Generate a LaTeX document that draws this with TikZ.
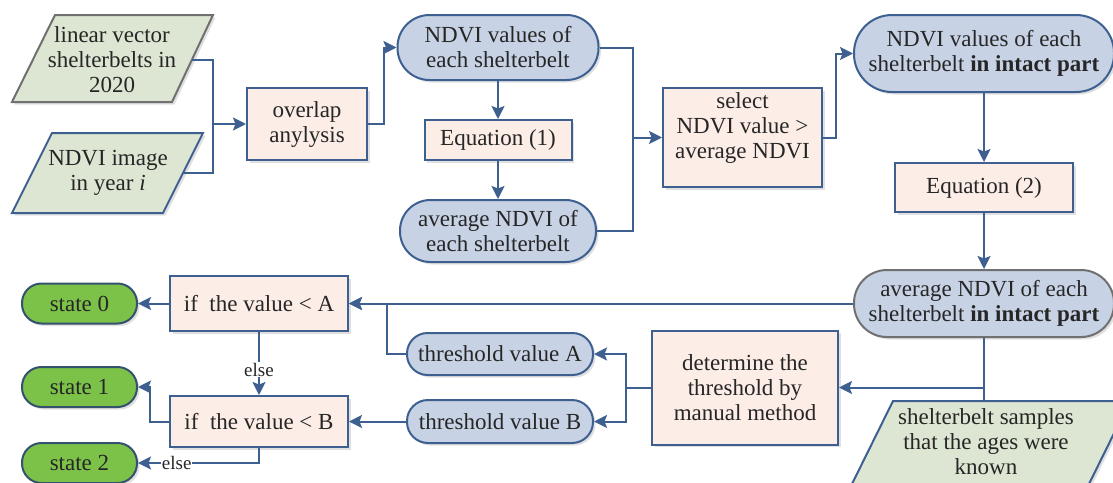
\documentclass[tikz,border=0pt]{standalone}
\usepackage{fontspec}
\setmainfont{LiberationSerif}[Extension=.ttf, UprightFont=*-Regular, BoldFont=*-Bold, ItalicFont=*-Italic, BoldItalicFont=*-BoldItalic]
\usetikzlibrary{arrows.meta,shadows}
\definecolor{lnblue}{RGB}{61,96,145}
\definecolor{pinkfill}{RGB}{252,237,231}
\definecolor{bluefill}{RGB}{199,210,229}
\definecolor{greenfill}{RGB}{221,230,210}
\definecolor{statefill}{RGB}{124,194,72}
\definecolor{grayline}{RGB}{112,112,112}
\definecolor{stateline}{RGB}{52,82,110}
\begin{document}
\begin{tikzpicture}[x=1pt,y=-1pt,
  every node/.style={font=\rmfamily\fontsize{23}{25}\selectfont, align=center, inner sep=0pt, text=black!85},
  shad/.style={drop shadow={shadow xshift=2.5pt,shadow yshift=-2.5pt,fill=black,opacity=0.12}},
  pinkbox/.style={rectangle, draw=lnblue, fill=pinkfill, line width=2pt, shad},
  pill/.style={rectangle, draw=lnblue, fill=bluefill, line width=2pt, rounded corners=#1, shad},
  statepill/.style={rectangle, draw=stateline, fill=statefill, line width=2pt, rounded corners=19.5pt, minimum width=115pt, minimum height=40pt, shad},
  para/.style={fill=greenfill, line width=2pt, shad},
  conn/.style={draw=lnblue, line width=2pt},
  arr/.style={conn, -{Stealth[length=13pt,width=13pt,inset=2.5pt]}},
  elselbl/.style={font=\rmfamily\fontsize{19}{21}\selectfont, fill=white, inner sep=1pt}
]
\fill[white] (0,0) rectangle (1113,482);
\path[use as bounding box] (0,0) rectangle (1113,482);
\clip (0,0) rectangle (1113,482);

% input parallelograms
\path[para, draw=grayline] (55,15) -- (213,15) -- (172,102) -- (12,102) -- cycle;
\node (p1) at (112,60) {linear vector\\shelterbelts in\\2020};
\coordinate (p1e) at (192,60);

\path[para, draw=lnblue] (52,133) -- (203,133) -- (163,213) -- (12,213) -- cycle;
\node (p2) at (108,173) {NDVI image\\in year \textit{i}};
\coordinate (p2e) at (183,173);

\path[para, draw=lnblue] (893,401) -- (1130,401) -- (1086,490) -- (849,490) -- cycle;
\node (smp) at (986,442) {shelterbelt samples\\that the ages were\\known};
\coordinate (sTop) at (984,401);

% process nodes
\node[pinkbox, minimum width=120pt, minimum height=72pt] (ov) at (307,124) {overlap\\anylysis};
\node[pill=32pt, minimum width=201pt, minimum height=65pt] (nv) at (498,47.5) {NDVI values of\\each shelterbelt};
\node[pinkbox, minimum width=147pt, minimum height=40pt] (eq1) at (498,140) {Equation (1)};
\node[pill=30.5pt, minimum width=196pt, minimum height=62pt] (avg) at (498,231) {average NDVI of\\each shelterbelt};
\node[pinkbox, minimum width=159pt, minimum height=99pt] (sel) at (742.5,137.5) {select\\NDVI value >\\average NDVI\\[-2pt]\mbox{}};
\node[pill=38pt, minimum width=260pt, minimum height=77pt] (nvi) at (984,53.5) {NDVI values of each\\shelterbelt \textbf{in intact part}};
\node[pinkbox, minimum width=178pt, minimum height=49pt] (eq2) at (984,187.5) {Equation (2)};
\node[pill=33pt, minimum width=260pt, minimum height=67pt, draw=grayline] (avgi) at (984,303.5) {average NDVI of each\\shelterbelt \textbf{in intact part}};
\node[pinkbox, minimum width=178pt, minimum height=55pt] (ifA) at (259,303.5) {if\ \ the value < A};
\node[pinkbox, minimum width=178pt, minimum height=51pt] (ifB) at (259,421.5) {if\ \ the value < B};
\node[pill=20.5pt, minimum width=186pt, minimum height=42pt] (thA) at (500,354) {threshold value A};
\node[pill=21pt, minimum width=186pt, minimum height=43pt] (thB) at (500,421.5) {threshold value B};
\node[pinkbox, minimum width=186pt, minimum height=114pt] (det) at (745,387.5) {determine the\\threshold by\\manual method};
\node[statepill] (s0) at (79.5,303.5) {state 0};
\node[statepill] (s1) at (79.5,387) {state 1};
\node[statepill] (s2) at (79.5,463) {state 2};

% connectors
\coordinate (jA) at (213,124);
\draw[conn] (p1e) -| (jA) |- (p2e);
\draw[arr] (jA) -- (ov.west);
\draw[arr] (ov.east) -- ++(16,0) |- (nv.west);
\draw[arr] (nv.south) -- (eq1.north);
\draw[arr] (eq1.south) -- (avg.north);
\coordinate (jB) at (633,137.5);
\draw[conn] (nv.east) -| (jB) |- (avg.east);
\draw[arr] (jB) -- (sel.west);
\draw[arr] (sel.east) -- ++(13,0) |- (nvi.west);
\draw[arr] (nvi.south) -- (eq2.north);
\draw[arr] (eq2.south) -- (avgi.north);
\draw[arr] (avgi.west) -- (ifA.east);
\draw[arr] (thA.west) -- ++(-19,0) |- (ifA.east);
\draw[arr] (thB.west) -- (ifB.east);
\coordinate (jC) at (626,387.5);
\draw[conn] (det.west) -- (jC);
\draw[arr] (jC) |- (thA.east);
\draw[arr] (jC) |- (thB.east);
\draw[conn] (avgi.south) -- (sTop);
\coordinate (jD) at (984,387.5);
\draw[arr] (jD) -- (det.east);
\draw[arr] (ifA.west) -- (s0.east);
\draw[arr] (ifA.south) -- node[elselbl, pos=0.6] {else} (ifB.north);
\draw[arr] (ifB.west) -- ++(-19,0) |- (s1.east);
\draw[arr] (ifB.south) |- node[elselbl, pos=0.84] {else} (s2.east);
\end{tikzpicture}
\end{document}
